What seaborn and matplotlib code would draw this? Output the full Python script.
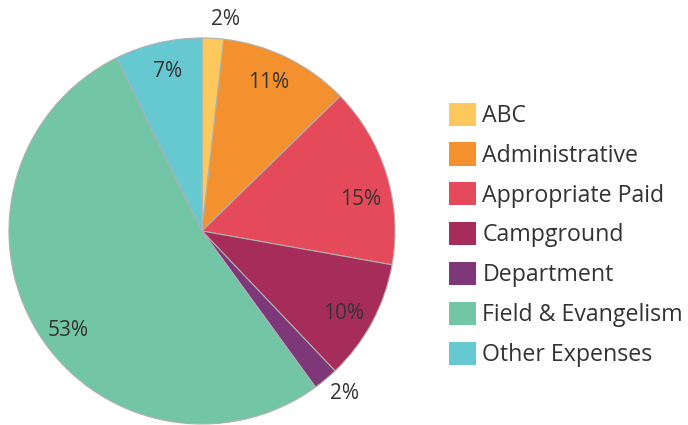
import numpy as np
import seaborn as sns
from matplotlib import pyplot as plt

categories = ['ABC', 'Administrative', 'Appropriate Paid', 'Campground',
              'Department', 'Field & Evangelism', 'Other Expenses']
shares = [1.8, 10.9, 15.1, 10.1, 2.1, 52.7, 7.3]
colors = ['#FDC85C', '#F4912F', '#E44A5A', '#A62D5A',
          '#7E3779', '#72C6A6', '#66C9D2']

# where the percent labels sit: clockwise shift from the slice middle (deg)
# and distance from the centre as a fraction of the radius
label_shift = [3, -2, 6, 2, -1.4, -5.4, 1]
label_dist = [1.10, 0.84, 0.84, 0.85, 1.12, 0.865, 0.845]

sns.set_theme(style="white")
plt.rcParams['font.family'] = ['Open Sans', 'DejaVu Sans']
palette = sns.color_palette(colors)

fig = plt.figure(figsize=(6.88, 4.25), dpi=100)
ax = fig.add_axes([8 / 688, 0, 388 / 688, 388 / 425])

wedges, texts, autotexts = ax.pie(
    shares, colors=palette, startangle=90, counterclock=False,
    autopct='%.0f%%', pctdistance=0.85,
    wedgeprops=dict(edgecolor='#b0b0b0', linewidth=0.8),
    textprops=dict(fontsize=15, color='#333333'))
ax.set_aspect('equal')
ax.set_xlim(-1.005, 1.005)
ax.set_ylim(-1.005, 1.005)

for w, t, s, d in zip(wedges, autotexts, label_shift, label_dist):
    mid = np.deg2rad((w.theta1 + w.theta2) / 2 - s)
    t.set_position((d * np.cos(mid), d * np.sin(mid)))

leg = fig.legend(wedges, categories, loc='upper left',
                 bbox_to_anchor=(437 / 688, 1 - 91 / 425),
                 frameon=False, fontsize=16.7, handlelength=1.16,
                 handleheight=1.16, handletextpad=0.3, labelspacing=0.62,
                 borderpad=0, labelcolor='#333333')
for h in leg.legend_handles:
    h.set_edgecolor('none')

fig.savefig('out.png', dpi=100)
